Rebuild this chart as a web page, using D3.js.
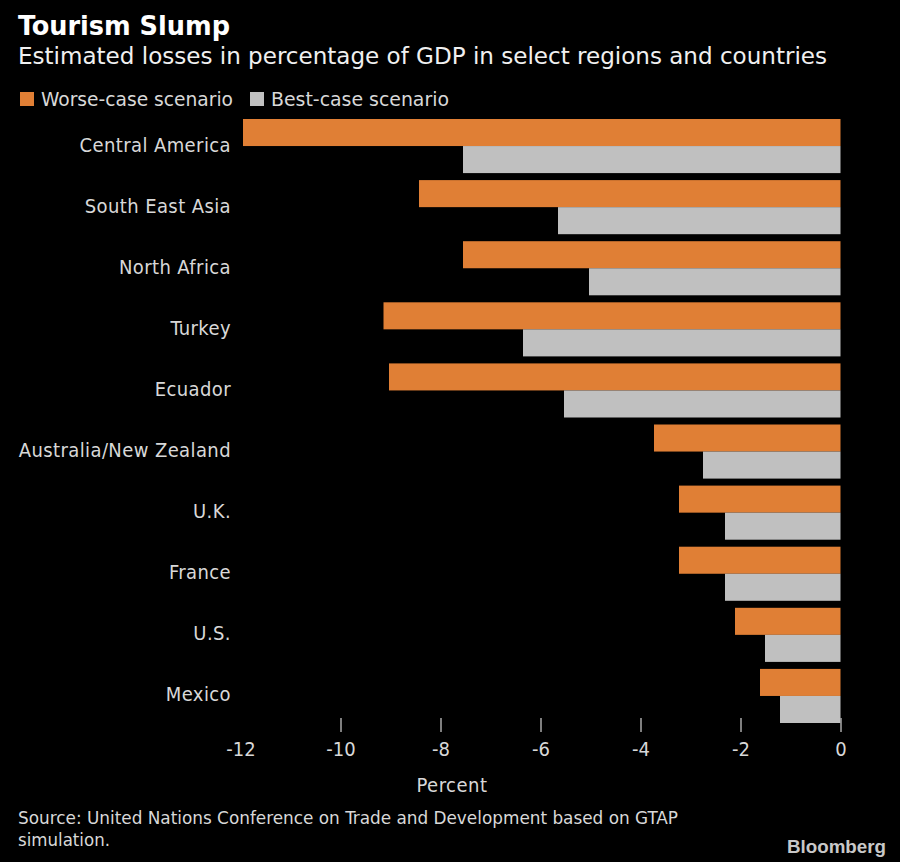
<!DOCTYPE html>
<html>
<head>
<meta charset="utf-8">
<title>Tourism Slump</title>
<script src="https://cdnjs.cloudflare.com/ajax/libs/d3/7.8.5/d3.min.js"></script>
<style>
html, body { margin: 0; background: #000; }
svg { display: block; }
text { font-family: "DejaVu Sans", sans-serif; font-stretch: condensed; fill: #d8d8d8; }
.domain { display: none; }
</style>
</head>
<body>
<script>
var categories = ["Central America", "South East Asia", "North Africa", "Turkey", "Ecuador",
    "Australia/New Zealand", "U.K.", "France", "U.S.", "Mexico"];
var worseCase = [-11.95, -8.43, -7.55, -9.14, -9.03, -3.73, -3.23, -3.23, -2.11, -1.61];
var bestCase = [-7.55, -5.65, -5.03, -6.35, -5.53, -2.75, -2.31, -2.31, -1.51, -1.21];
var xTicks = [-12, -10, -8, -6, -4, -2, 0];
var orange = "#e07f35", gray = "#c0c0c0";

var svg = d3.select("body").append("svg").attr("width", 900).attr("height", 862);
svg.append("rect").attr("width", 900).attr("height", 862).attr("fill", "#000");

var x = d3.scaleLinear().domain([-12, 0]).range([240.5, 840.5]);
var y = d3.scaleBand().domain(categories).range([119, 723]).paddingInner(7 / 61);
var half = y.bandwidth() / 2;

function bars(values, color, offset) {
    svg.append("g").selectAll("rect").data(values).join("rect")
        .attr("x", function(d) { return x(d); })
        .attr("y", function(d, i) { return y(categories[i]) + offset; })
        .attr("width", function(d) { return x(0) - x(d); })
        .attr("height", half)
        .attr("fill", color);
}
bars(worseCase, orange, 0);
bars(bestCase, gray, half);

// category labels
svg.append("g").selectAll("text").data(categories).join("text")
    .attr("x", 231)
    .attr("y", function(d) { return y(d) + half + 5.5; })
    .attr("text-anchor", "end")
    .attr("font-size", 20)
    .attr("letter-spacing", 0.4)
    .text(function(d) { return d; });

// axis
var axis = d3.axisBottom(x).tickValues(xTicks).tickSize(14).tickPadding(10)
    .tickFormat(function(d) { return d; });
var gx = svg.append("g").attr("transform", "translate(0,718)").call(axis);
gx.selectAll("line").attr("stroke", "#aaa").attr("stroke-width", 1.5)
    .attr("opacity", function(d) { return d === -12 ? 0 : 1; });
gx.selectAll("text").attr("font-size", 20).attr("font-family", null).attr("fill", "#d8d8d8");

svg.append("text").attr("x", 452).attr("y", 792).attr("text-anchor", "middle")
    .attr("font-size", 20).attr("letter-spacing", 0.5).text("Percent");

// squeeze a line into the width it has in the picture
function line(tx, ty, size, width, str, color) {
    var t = svg.append("text").attr("x", tx).attr("y", ty).attr("font-size", size).text(str);
    if (width) t.attr("textLength", width).attr("lengthAdjust", "spacingAndGlyphs");
    if (color) t.style("fill", color);
    return t;
}

// titles
line(18, 35, 27, 212, "Tourism Slump", "#fff").attr("font-weight", "bold");
line(18, 64, 23, 809, "Estimated losses in percentage of GDP in select regions and countries", "#f0f0f0");

// legend
var legendItems = [
    {label: "Worse-case scenario", color: orange, box: 20, text: 41, width: 192},
    {label: "Best-case scenario", color: gray, box: 250, text: 271, width: 178}
];
legendItems.forEach(function(l) {
    svg.append("rect").attr("x", l.box).attr("y", 92).attr("width", 14).attr("height", 14).attr("fill", l.color);
    line(l.text, 106, 20, l.width, l.label);
});

// source
line(18, 824, 18.5, 660, "Source: United Nations Conference on Trade and Development based on GTAP");
line(18, 846, 18.5, 92, "simulation.");

line(787, 853, 19, 99, "Bloomberg", "#c8c8c8")
    .attr("font-weight", "bold").style("font-family", "'Liberation Sans', sans-serif");
</script>
</body>
</html>
